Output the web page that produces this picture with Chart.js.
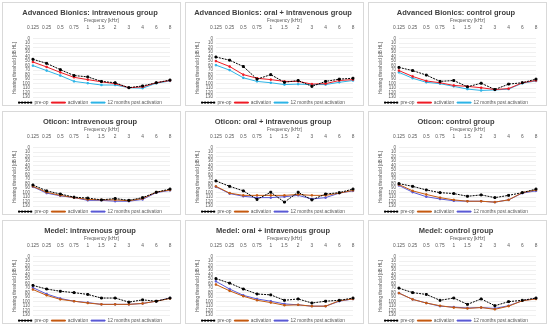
<!DOCTYPE html>
<html lang="en">
<head>
<meta charset="UTF-8">
<title>Hearing thresholds</title>
<script src="https://cdn.jsdelivr.net/npm/chart.js"></script>
<style>
  html, body { margin: 0; padding: 0; background: #fff; }
  body { width: 550px; height: 328px; font-family: "Liberation Sans", Arial, sans-serif; }
  .grid { display: grid; grid-template-columns: repeat(3, 179px); grid-template-rows: repeat(3, 104px);
          column-gap: 4px; row-gap: 5px; padding: 2px 0 0 2px; }
  .panel { border: 1px solid #d9d9d9; box-sizing: border-box; }
  .panel canvas { display: block; }
</style>
</head>
<body>
<div class="grid" id="grid"></div>
<script>
// frequencies (kHz) and y-axis ticks
const frequencies = ['0.125', '0.25', '0.5', '0.75', '1', '1.5', '2', '3', '4', '6', '8'];
const yTicks = [0, 10, 20, 30, 40, 50, 60, 70, 80, 90, 100, 110, 120, 130];

const titles = [
  'Advanced Bionics: intravenous group',
  'Advanced Bionics: oral + intravenous group',
  'Advanced Bionics: control group',
  'Oticon: intravenous group',
  'Oticon: oral + intravenous group',
  'Oticon: control group',
  'Medel: intravenous group',
  'Medel: oral + intravenous group',
  'Medel: control group'
];

// pre-op thresholds [dB HL]
const preOp = [
  [46, 55, 69, 82, 85, 95, 98, 109, 105, 98, 92],
  [41, 48, 62, 90, 80, 97, 93, 106, 95, 90, 88],
  [64, 71, 81, 95, 93, 107, 99, 113, 101, 98, 90],
  [83, 96, 103, 110, 112, 116, 113, 117, 111, 99, 92],
  [74, 86, 96, 115, 99, 121, 99, 116, 103, 100, 92],
  [80, 86, 94, 100, 102, 108, 105, 111, 106, 100, 92],
  [64, 72, 77, 80, 84, 92, 92, 101, 96, 99, 92],
  [49, 59, 72, 83, 85, 97, 94, 103, 99, 97, 92],
  [70, 80, 84, 97, 92, 106, 94, 109, 100, 97, 92]
];

// thresholds at activation
const activation = [
  [52, 63, 75, 86, 91, 96, 100, 109, 107, 98, 93],
  [50, 62, 80, 88, 91, 95, 95, 101, 100, 93, 91],
  [71, 84, 94, 98, 104, 106, 109, 113, 111, 98, 93],
  [86, 99, 106, 111, 115, 116, 116, 118, 113, 99, 94],
  [86, 101, 106, 106, 106, 106, 104, 106, 106, 101, 95],
  [82, 96, 104, 111, 116, 119, 119, 121, 116, 100, 94],
  [73, 86, 95, 99, 103, 106, 106, 106, 104, 99, 93],
  [62, 76, 88, 97, 102, 108, 107, 110, 110, 98, 94],
  [81, 95, 103, 109, 113, 115, 113, 117, 110, 98, 94]
];

// thresholds 12 months post activation
const months12 = [
  [60, 71, 82, 95, 99, 103, 103, 109, 110, 99, 94],
  [59, 70, 87, 95, 98, 102, 101, 102, 102, 97, 93],
  [75, 88, 97, 100, 106, 112, 115, 114, 112, 99, 94],
  [87, 101, 107, 111, 117, 117, 119, 119, 115, 100, 95],
  [87, 102, 108, 111, 111, 109, 106, 114, 111, 101, 96],
  [84, 99, 109, 114, 118, 119, 119, 121, 116, 101, 96],
  [69, 83, 93, 99, 102, 106, 106, 106, 104, 99, 92],
  [55, 72, 86, 94, 99, 105, 107, 110, 110, 99, 94],
  [81, 95, 103, 110, 112, 114, 113, 115, 109, 98, 93]
];

const textColor = '#595959';

function makeChart(i) {
  const div = document.createElement('div');
  div.className = 'panel';
  const canvas = document.createElement('canvas');
  canvas.width = 177;
  canvas.height = 102;
  div.appendChild(canvas);
  document.getElementById('grid').appendChild(div);

  const isAB = i < 3;
  const actColor = isAB ? '#ee1c25' : '#c55a11';
  const monColor = isAB ? '#2eb4e6' : '#5b5bd6';

  new Chart(canvas.getContext('2d'), {
    type: 'line',
    data: {
      labels: frequencies,
      datasets: [
        { label: 'pre-op', data: preOp[i], borderColor: '#000', backgroundColor: '#000',
          borderDash: [2, 1], borderWidth: 1, pointStyle: 'rect', pointRadius: 1.3 },
        { label: 'activation', data: activation[i], borderColor: actColor, backgroundColor: actColor,
          borderWidth: 1, pointStyle: 'rect', pointRadius: 1 },
        { label: '12 months post activation', data: months12[i], borderColor: monColor, backgroundColor: monColor,
          borderWidth: 1, pointStyle: 'rect', pointRadius: 1 }
      ]
    },
    options: {
      responsive: false,
      animation: false,
      layout: { padding: { left: 7, right: 10, top: 0, bottom: -10 } },
      plugins: {
        title: { display: true, text: titles[i], color: '#404040',
                 font: { size: 7.5, weight: 'bold' }, padding: { top: 5, bottom: 0 } },
        legend: { position: 'bottom',
                  labels: { color: textColor, font: { size: 4.8 }, boxWidth: 14, boxHeight: 1, padding: 3 } },
        tooltip: { enabled: false }
      },
      scales: {
        x: {
          position: 'top',
          grid: { display: false },
          border: { display: false },
          ticks: { color: textColor, font: { size: 4.8 }, padding: 0, maxRotation: 0, autoSkip: false },
          title: { display: true, text: 'Frequency [kHz]', color: textColor, font: { size: 4.8 }, padding: 1 }
        },
        y: {
          reverse: true,
          min: yTicks[0],
          max: yTicks[yTicks.length - 1],
          afterBuildTicks: axis => { axis.ticks = yTicks.map(v => ({ value: v })); },
          grid: { color: '#e6e6e6', lineWidth: 0.6, drawTicks: false },
          border: { display: false },
          ticks: { color: textColor, font: { size: 4.5 }, padding: 3, autoSkip: false },
          title: { display: true, text: 'Hearing threshold [dB HL]', color: textColor, font: { size: 4.5 }, padding: 2 }
        }
      }
    }
  });
}

for (let i = 0; i < titles.length; i++) makeChart(i);
</script>
</body>
</html>
